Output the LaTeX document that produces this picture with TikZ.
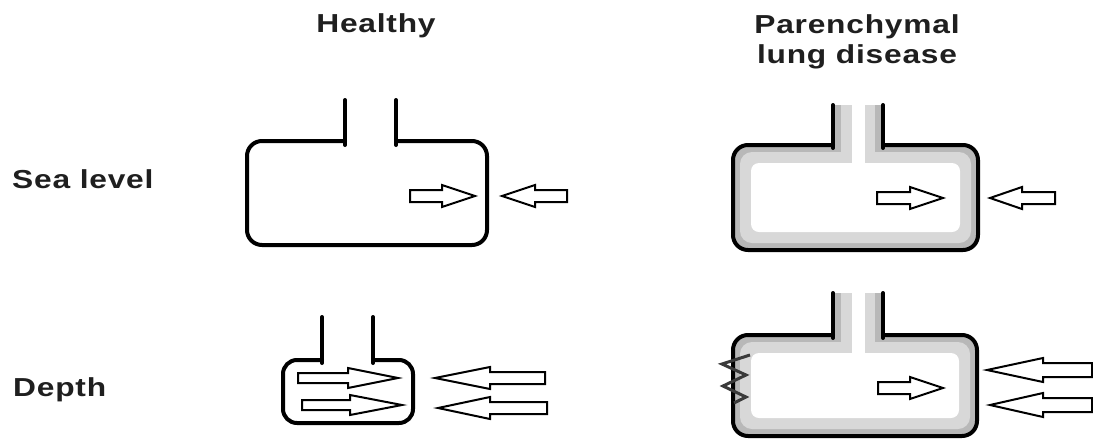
\documentclass[tikz,border=0pt]{standalone}
\usepackage{fontspec}
\setmainfont{Liberation Sans}
\newfontfamily\labelfont[FakeStretch=1.22, LetterSpace=3]{Liberation Sans}
\definecolor{bandouter}{HTML}{B8B8B8}
\definecolor{bandinner}{HTML}{D8D8D8}
\definecolor{scar}{HTML}{3A3A3A}

% block arrow: tip x, centre y, head-base x, tail x, shaft half-height, head half-height
\newcommand\blockarrow[6]{%
  \draw[blockarr] (#1,#2) -- (#3,#2-#6) -- (#3,#2-#5) -- (#4,#2-#5)
    -- (#4,#2+#5) -- (#3,#2+#5) -- (#3,#2+#6) -- cycle;}

% thickened (diseased) alveolus: left, top, right, bottom, tube top
\newcommand\sickalveolus[5]{%
  \fill[bandouter, rounded corners=15pt] (#1,#2) rectangle (#3,#4);
  \fill[bandinner, rounded corners=12pt] (#1+7,#2+7) rectangle (#3-7,#4-7);
  \fill[white, rounded corners=8pt] (#1+18,#2+18) rectangle (#3-18,#4-18);
  \fill[bandouter] (835,#5) rectangle (881,#2+7);
  \fill[bandinner] (841,#5) rectangle (875,#2+10);
  \fill[white] (852,#5) rectangle (865,#2+20);
  \draw[wall] (833,#2) -- (#1,#2) -- (#1,#4) -- (#3,#4) -- (#3,#2) -- (883,#2);
  \draw[tube] (833,#5) -- (833,#2+3);
  \draw[tube] (883,#5) -- (883,#2+3);}

\begin{document}
\begin{tikzpicture}[x=1pt,y=-1pt,
  wall/.style={line width=4pt, line cap=round, rounded corners=15pt},
  tube/.style={line width=4pt, line cap=round},
  blockarr/.style={draw, line width=2pt, line join=miter, fill=white},
  lbl/.style={font=\labelfont\bfseries\fontsize{26}{30}\selectfont, inner sep=0pt, text=black!88}]
\useasboundingbox (0,0) rectangle (1093,440);
\fill[white] (0,0) rectangle (1093,440);

% column and row headings
\node[lbl, anchor=base] (healthy) at (376,32) {Healthy};
\node[lbl, anchor=base] (paren) at (857,33) {Parenchymal};
\node[lbl, anchor=base] (lung) at (857,63) {lung disease};
\node[lbl, anchor=base west] (sea) at (12,188) {Sea level};
\node[lbl, anchor=base west] (depth) at (13,396) {Depth};

% healthy, sea level
\draw[wall] (345,141) -- (247,141) -- (247,245) -- (487,245) -- (487,141) -- (396,141);
\draw[tube] (345,100) -- (345,145);
\draw[tube] (396,100) -- (396,145);
\blockarrow{475}{196}{442}{410}{6}{11}
\blockarrow{502}{196}{535}{567}{6}{11}

% healthy, depth
\draw[wall, rounded corners=14pt] (322,360) -- (283,360) -- (283,423) -- (413,423) -- (413,360) -- (373,360);
\draw[tube] (322,317) -- (322,363);
\draw[tube] (373,317) -- (373,363);
\blockarrow{398}{378}{348}{298}{5}{10}
\blockarrow{402}{405}{350}{302}{5}{10}
\blockarrow{435}{378}{490}{545}{6}{11}
\blockarrow{438}{408}{490}{547}{6}{11}

% parenchymal disease, sea level
\sickalveolus{733}{145}{978}{250}{105}
\blockarrow{943}{198}{910}{877}{6}{11}
\blockarrow{990}{198}{1022}{1055}{6}{11}

% parenchymal disease, depth
\sickalveolus{733}{335}{977}{436}{293}
\draw[scar, line width=3pt, line join=miter]
  (750,355) -- (722,364) -- (746,375) -- (723,386) -- (746,397) -- (734,403);
\blockarrow{943}{388}{910}{878}{6}{11}
\blockarrow{987}{370}{1043}{1092}{7}{12}
\blockarrow{990}{405}{1043}{1092}{7}{12}
\end{tikzpicture}
\end{document}
